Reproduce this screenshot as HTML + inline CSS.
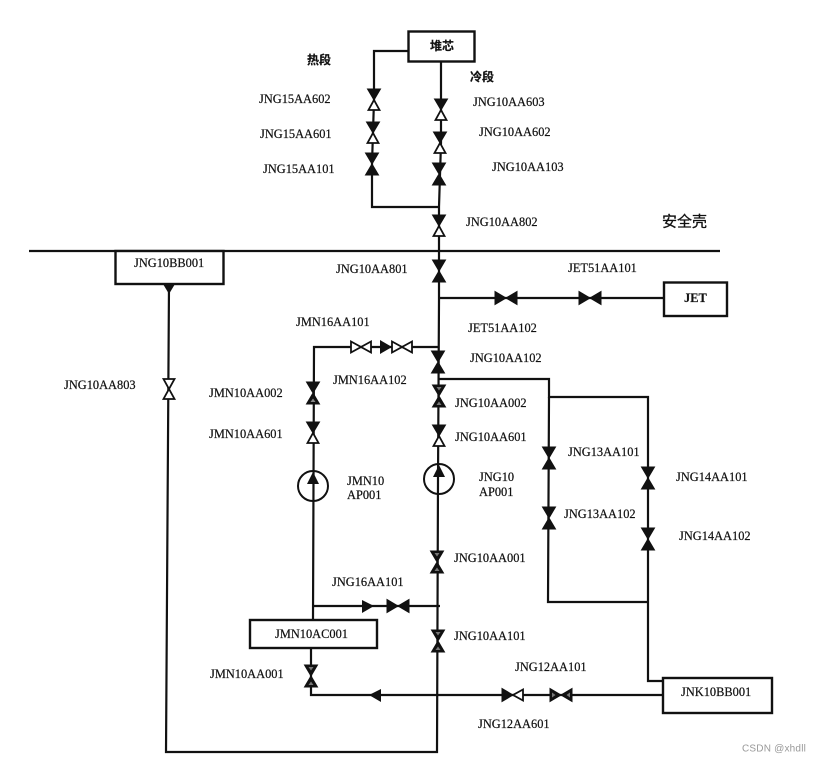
<!DOCTYPE html>
<html><head><meta charset="utf-8">
<style>
html,body{margin:0;padding:0;background:#fff;width:819px;height:763px;overflow:hidden}
svg{display:block}
text{font-family:"Liberation Serif","Noto Serif CJK SC",serif;font-size:12.4px;fill:#111;dominant-baseline:central;stroke:#111;stroke-width:.2}
.c{font-family:"Liberation Sans","Noto Sans CJK SC",sans-serif;font-weight:bold;font-size:12px}
.s{font-family:"Liberation Sans","Noto Sans CJK SC",sans-serif;font-size:15px;stroke-width:.3}
.w{font-family:"Liberation Sans",sans-serif;font-size:10px;fill:#999;stroke:none;letter-spacing:.2px}
.l{fill:none;stroke:#111;stroke-width:2.2}
.b{fill:#fff;stroke:#111;stroke-width:2.4}
</style></head><body>
<svg width="819" height="763" viewBox="0 0 819 763" xmlns="http://www.w3.org/2000/svg">
<defs>
<g id="ff"><path d="M-6.500 -11H6.500L0 0ZM-6.500 11H6.500L0 0Z" fill="#111" stroke="#111" stroke-width="1"/></g>
<g id="fo"><path d="M-6.500 -11H6.500L0 0Z" fill="#111" stroke="#111" stroke-width="1"/><path d="M-5.500 10H5.500L0 0Z" fill="#fff" stroke="#111" stroke-width="1.800"/></g>
<g id="oo"><path d="M-5.500 -10H5.500L0 0Z" fill="#fff" stroke="#111" stroke-width="1.800"/><path d="M-5.500 10H5.500L0 0Z" fill="#fff" stroke="#111" stroke-width="1.800"/></g>
<g id="hh"><path d="M-6.500 -11H6.500L0 0ZM-6.500 11H6.500L0 0Z" fill="#111" stroke="#111" stroke-width="1"/><path d="M-2.500 -9H2.500L0 -5.500ZM-2.500 9H2.500L0 5.500Z" fill="#777"/></g>
<g id="fh"><path d="M-6.500 -11H6.500L0 0ZM-6.500 11H6.500L0 0Z" fill="#111" stroke="#111" stroke-width="1"/><path d="M-2.500 9H2.500L0 5.500Z" fill="#888"/></g>
</defs>

<!-- pipes -->
<path class="l" d="M29 251H720" stroke-width="2"/>
<path class="l" d="M408 51H374V100L372 164V207H438"/>
<path class="l" d="M441 61V143L439 207V300L438 480L437 752H166L169 284"/>
<path class="l" d="M439 298H664"/>
<path class="l" d="M438 347H314L313 619"/>
<path class="l" d="M439 379H549V397H648V681H664"/>
<path class="l" d="M549 397L548 602H648"/>
<path class="l" d="M313 606H440"/>
<path class="l" d="M311 648V695H664"/>

<!-- boxes -->
<rect class="b" x="408.500" y="31.500" width="66" height="30"/>
<rect class="b" x="115.500" y="251" width="108" height="33"/>
<rect class="b" x="664" y="282.500" width="63" height="33.500"/>
<rect class="b" x="250" y="620" width="127" height="28"/>
<rect class="b" x="663" y="678" width="109" height="35"/>

<!-- vertical valves -->
<use href="#fo" x="374" y="100"/>
<use href="#fo" x="373" y="133"/>
<use href="#ff" x="372" y="164"/>
<use href="#fo" x="441" y="110"/>
<use href="#fo" x="440" y="143"/>
<use href="#ff" x="439" y="174"/>
<use href="#fo" x="439" y="226"/>
<use href="#ff" x="439" y="271"/>
<use href="#ff" x="438" y="362"/>
<use href="#hh" x="439" y="396"/>
<use href="#fo" x="439" y="436"/>
<use href="#hh" x="437" y="562"/>
<use href="#hh" x="438" y="641"/>
<use href="#fh" x="313" y="393"/>
<use href="#fo" x="313" y="433"/>
<use href="#hh" x="311" y="676"/>
<use href="#oo" x="169" y="389"/>
<use href="#ff" x="549" y="458"/>
<use href="#ff" x="549" y="518"/>
<use href="#ff" x="648" y="478"/>
<use href="#ff" x="648" y="539"/>

<!-- BB outlet arrow -->
<path d="M163 284H175L169 294Z" fill="#111"/>

<!-- horizontal valves -->
<use href="#ff" transform="translate(506 298) rotate(90)"/>
<use href="#ff" transform="translate(590 298) rotate(90)"/>
<use href="#oo" transform="translate(361 347) rotate(90)"/>
<path d="M380 340L392 347L380 354Z" fill="#111"/>
<use href="#oo" transform="translate(402 347) rotate(90)"/>
<path d="M362 600L374 606L362 613Z" fill="#111"/>
<use href="#ff" transform="translate(398 606) rotate(90)"/>
<path d="M381 689L369 695L381 702Z" fill="#111"/>
<use href="#fo" transform="translate(513 695) rotate(-90)"/>
<use href="#hh" transform="translate(561 695) rotate(90)"/>

<!-- pumps -->
<circle cx="439" cy="479" r="15" fill="none" stroke="#111" stroke-width="2"/>
<path d="M433 477L439 465L445 477Z" fill="#111"/>
<circle cx="313" cy="486" r="15" fill="none" stroke="#111" stroke-width="2"/>
<path d="M307 484L313 472L319 484Z" fill="#111"/>

<!-- labels -->
<text class="c" x="430" y="46">堆芯</text>
<text class="c" x="307" y="60">热段</text>
<text class="c" x="470" y="77">冷段</text>
<text class="s" x="662" y="222">安全壳</text>
<text x="259" y="99">JNG15AA602</text>
<text x="260" y="134">JNG15AA601</text>
<text x="263" y="169">JNG15AA101</text>
<text x="473" y="102">JNG10AA603</text>
<text x="479" y="132">JNG10AA602</text>
<text x="492" y="167">JNG10AA103</text>
<text x="466" y="222">JNG10AA802</text>
<text x="134" y="263">JNG10BB001</text>
<text x="336" y="269">JNG10AA801</text>
<text x="568" y="268">JET51AA101</text>
<text x="684" y="298" style="font-weight:bold">JET</text>
<text x="468" y="328">JET51AA102</text>
<text x="296" y="322">JMN16AA101</text>
<text x="470" y="358">JNG10AA102</text>
<text x="333" y="380">JMN16AA102</text>
<text x="209" y="393">JMN10AA002</text>
<text x="209" y="434">JMN10AA601</text>
<text x="455" y="403">JNG10AA002</text>
<text x="455" y="437">JNG10AA601</text>
<text x="64" y="385">JNG10AA803</text>
<text x="347" y="481">JMN10</text>
<text x="347" y="495">AP001</text>
<text x="479" y="477">JNG10</text>
<text x="479" y="492">AP001</text>
<text x="568" y="452">JNG13AA101</text>
<text x="564" y="514">JNG13AA102</text>
<text x="676" y="477">JNG14AA101</text>
<text x="679" y="536">JNG14AA102</text>
<text x="454" y="558">JNG10AA001</text>
<text x="332" y="582">JNG16AA101</text>
<text x="275" y="634">JMN10AC001</text>
<text x="454" y="636">JNG10AA101</text>
<text x="210" y="674">JMN10AA001</text>
<text x="515" y="667">JNG12AA101</text>
<text x="681" y="692">JNK10BB001</text>
<text x="478" y="724">JNG12AA601</text>
<text class="w" x="742" y="749">CSDN @xhdll</text>
</svg>
</body></html>
